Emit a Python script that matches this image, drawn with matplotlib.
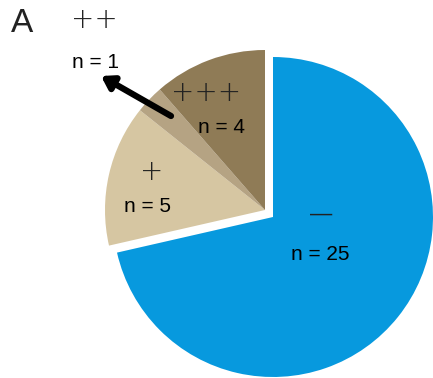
import matplotlib
matplotlib.use("Agg")
import matplotlib.pyplot as plt

plt.rcParams['font.family'] = ['Liberation Sans', 'DejaVu Sans']

categories = ["—", "+", "++", "+++"]
counts = [25, 5, 1, 4]
colors = ["#0799DE", "#D6C6A2", "#B5A383", "#8F7B56"]

W, H = 433, 378
fig = plt.figure(figsize=(W / 100, H / 100), dpi=100)
ax = fig.add_axes([0, 0, 1, 1])
cx, cy, R = 273, 217, 160

def px(x, y):
    return ((x - cx) / R, (cy - y) / R)

# blue slice at origin
ax.pie(counts, colors=[colors[0], "none", "none", "none"], startangle=90,
       counterclock=False, radius=1, center=(0, 0), frame=True,
       wedgeprops=dict(linewidth=0))
# positive group, pulled out together
off = px(cx - 8, cy - 7)
ax.pie(counts, colors=["none"] + colors[1:], startangle=90,
       counterclock=False, radius=1, center=off, frame=True,
       wedgeprops=dict(linewidth=0))

ax.set_xlim(-cx / R, (W - cx) / R)
ax.set_ylim(-(H - cy) / R, cy / R)
ax.set_aspect('equal')
ax.axis('off')

sym_pos = [(321, 214), (152, 172), (94, 20), (206, 93)]
n_pos = [(320, 254), (147, 207), (96, 62), (222, 128)]

for i, (t, c) in enumerate(zip(categories, counts)):
    x, y = sym_pos[i]
    if t == "—":
        ax.text(*px(x, y), t, ha='center', va='center', fontsize=16,
                color='#222222')
    else:
        ax.text(*px(x, y), t, ha='center', va='center', fontsize=20,
                family='DejaVu Sans', fontweight=200, color='#222222')
    x, y = n_pos[i]
    ax.text(*px(x, y), f"n = {c}", ha='center', va='center', fontsize=15,
            color='black')

ax.text(*px(22, 24), "A", ha='center', va='center', fontsize=24,
        color='#222222')

ax.annotate("", xy=px(101, 76), xytext=px(171, 116),
            arrowprops=dict(arrowstyle="-|>,head_width=0.45,head_length=0.7",
                            lw=4.5, color='black', shrinkA=0, shrinkB=0))

fig.savefig("out.png", dpi=100)
